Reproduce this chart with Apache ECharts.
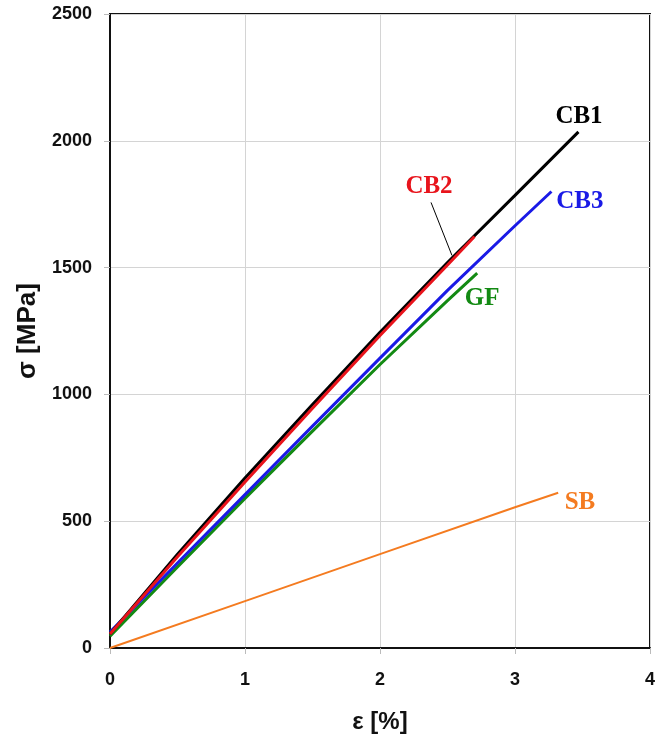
<!DOCTYPE html>
<html>
<head>
<meta charset="utf-8">
<script src="https://cdn.jsdelivr.net/npm/echarts@6/dist/echarts.min.js"></script>
<style>html,body{margin:0;padding:0;background:#fff}#c{width:656px;height:740px}</style>
</head>
<body>
<div id="c"></div>
<script>
// strain [%] and stress [MPa]
const cb1X = [0, 0.5, 1.0, 1.5, 2.0, 2.5, 3.0, 3.47];
const cb1Y = [55, 370, 670, 960, 1245, 1520, 1785, 2035];
const cb2X = [0, 0.5, 1.0, 1.5, 2.0, 2.5, 2.70];
const cb2Y = [55, 360, 655, 945, 1232, 1510, 1623];
const cb3X = [0, 0.5, 1.0, 1.5, 2.0, 2.5, 3.0, 3.27];
const cb3Y = [63, 335, 605, 875, 1143, 1410, 1665, 1800];
const gfX = [0, 0.5, 1.0, 1.5, 2.0, 2.5, 2.72];
const gfY = [47, 320, 590, 855, 1118, 1370, 1478];
const sbX = [0, 1.0, 2.0, 3.0, 3.32];
const sbY = [0, 185, 370, 555, 612];
const xTicks = [0, 1, 2, 3, 4];
const yTicks = [0, 500, 1000, 1500, 2000, 2500];
const names = ['CB1', 'CB2', 'CB3', 'GF', 'SB'];

const pair = (xs, ys) => xs.map((x, i) => [x, ys[i]]);
const chart = echarts.init(document.getElementById('c'), null, {renderer: 'canvas'});

function lbl(coord, text, color) {
  return {
    symbol: 'rect', symbolSize: 1, silent: true,
    itemStyle: {color: 'rgba(0,0,0,0)'},
    label: {show: true, position: 'inside', formatter: text, color: color,
      fontFamily: 'Liberation Serif', fontWeight: 'bold', fontSize: 25},
    data: [{coord: coord}]
  };
}
function line(name, data, color, width, labelCoord) {
  return {
    name: name, type: 'line', data: data, showSymbol: false, symbol: 'none',
    lineStyle: {color: color, width: width}, animation: false, z: 3,
    markPoint: lbl(labelCoord, name, color)
  };
}

const cb2 = line(names[1], pair(cb2X, cb2Y), '#e8141c', 3, [2.363, 1820]);
cb2.markLine = {
  silent: true, symbol: 'none', animation: false,
  lineStyle: {color: '#000', width: 1, type: 'solid'}, label: {show: false},
  data: [[{coord: [2.378, 1757]}, {coord: [2.533, 1548]}]]
};

chart.setOption({
  backgroundColor: '#fff',
  animation: false,
  grid: {left: 110, right: 6, top: 14, bottom: 92, show: true, outerBoundsMode: 'none', containLabel: false,
    borderColor: '#111', borderWidth: 2, backgroundColor: 'transparent'},
  xAxis: {
    type: 'value', min: 0, max: 4, interval: 1,
    name: 'ε [%]', nameLocation: 'middle', nameGap: 62,
    nameTextStyle: {fontFamily: 'Liberation Sans', fontWeight: 'bold', fontSize: 24, color: '#111'},
    axisLine: {show: true, lineStyle: {color: '#111', width: 2}},
    axisTick: {show: true, length: 6, lineStyle: {color: '#bbb'}},
    axisLabel: {margin: 23, fontFamily: 'Liberation Sans', fontWeight: 'bold', fontSize: 18, color: '#111',
      formatter: v => xTicks.includes(v) ? String(v) : ''},
    splitLine: {show: true, lineStyle: {color: '#d4d4d4', width: 1}}
  },
  yAxis: {
    type: 'value', min: 0, max: 2500, interval: 500,
    name: 'σ [MPa]', nameLocation: 'middle', nameGap: 69, nameRotate: 90,
    nameTextStyle: {fontFamily: 'Liberation Sans', fontWeight: 'bold', fontSize: 26, color: '#111'},
    axisLine: {show: true, lineStyle: {color: '#111', width: 2}},
    axisTick: {show: true, length: 6, lineStyle: {color: '#bbb'}},
    axisLabel: {margin: 18, fontFamily: 'Liberation Sans', fontWeight: 'bold', fontSize: 18, color: '#111',
      formatter: v => yTicks.includes(v) ? String(v) : ''},
    splitLine: {show: true, lineStyle: {color: '#d4d4d4', width: 1}}
  },
  series: [
    line(names[4], pair(sbX, sbY), '#f47b20', 2, [3.481, 575]),
    line(names[3], pair(gfX, gfY), '#138a13', 3, [2.756, 1379]),
    line(names[2], pair(cb3X, cb3Y), '#1a1ae6', 3, [3.481, 1761]),
    line(names[0], pair(cb1X, cb1Y), '#000000', 3, [3.474, 2096]),
    cb2
  ]
});
</script>
</body>
</html>
